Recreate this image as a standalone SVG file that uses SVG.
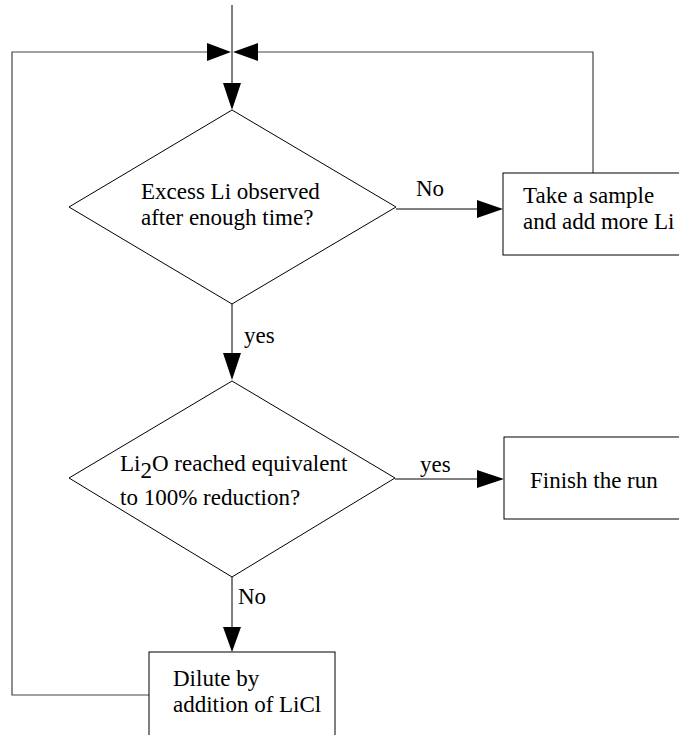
<svg xmlns="http://www.w3.org/2000/svg" width="679" height="735" viewBox="0 0 679 735">
<style>
.shape{fill:#fff;stroke:#000;stroke-width:1}
.line{fill:none;stroke:#000;stroke-width:1}
.loop{fill:none;stroke:#444;stroke-width:1.2}
text{font-family:"Liberation Serif","Times New Roman",serif;font-size:23px;fill:#000}
.head{fill:#000;stroke:none}
</style>
<g id="connectors">
  <line class="line" x1="232" y1="5" x2="232" y2="85"/>
  <polygon class="head" points="223,83 241,83 232,110"/>
  <polyline class="loop" points="149,695 12,695 12,52 207,52"/>
  <polygon class="head" points="207,43 207,61 231,52"/>
  <polyline class="loop" points="593,173 593,52 258,52"/>
  <polygon class="head" points="258,43 258,61 233,52"/>
  <line class="line" x1="396" y1="209" x2="478" y2="209"/>
  <polygon class="head" points="477,200 477,218 503,209"/>
  <text x="416" y="196">No</text>
  <line class="line" x1="232" y1="303" x2="232" y2="355"/>
  <polygon class="head" points="223,353 241,353 232,380"/>
  <text x="244" y="343">yes</text>
  <line class="line" x1="395" y1="479" x2="478" y2="479"/>
  <polygon class="head" points="477,470 477,488 504,479"/>
  <text x="420" y="472">yes</text>
  <line class="line" x1="232" y1="577" x2="232" y2="628"/>
  <polygon class="head" points="223,627 241,627 232,652"/>
  <text x="238" y="604">No</text>
</g>
<g id="decision1">
  <polygon class="shape" points="232,110 396,207 232,304 69,207"/>
  <text x="141" y="199">Excess Li observed</text>
  <text x="141" y="225">after enough time?</text>
</g>
<g id="sample">
  <rect class="shape" x="503" y="173" width="190" height="82"/>
  <text x="523" y="203">Take a sample</text>
  <text x="523" y="229">and add more Li</text>
</g>
<g id="decision2">
  <polygon class="shape" points="232,381 395,478 232,577 69,478"/>
  <text x="120" y="471">Li<tspan dy="7">2</tspan><tspan dy="-7">O reached equivalent</tspan></text>
  <text x="120" y="505">to 100% reduction?</text>
</g>
<g id="finish">
  <rect class="shape" x="504" y="437" width="190" height="82"/>
  <text x="530" y="488">Finish the run</text>
</g>
<g id="dilute">
  <rect class="shape" x="149" y="652" width="186" height="95"/>
  <text x="173" y="686">Dilute by</text>
  <text x="173" y="712">addition of LiCl</text>
</g>
</svg>
